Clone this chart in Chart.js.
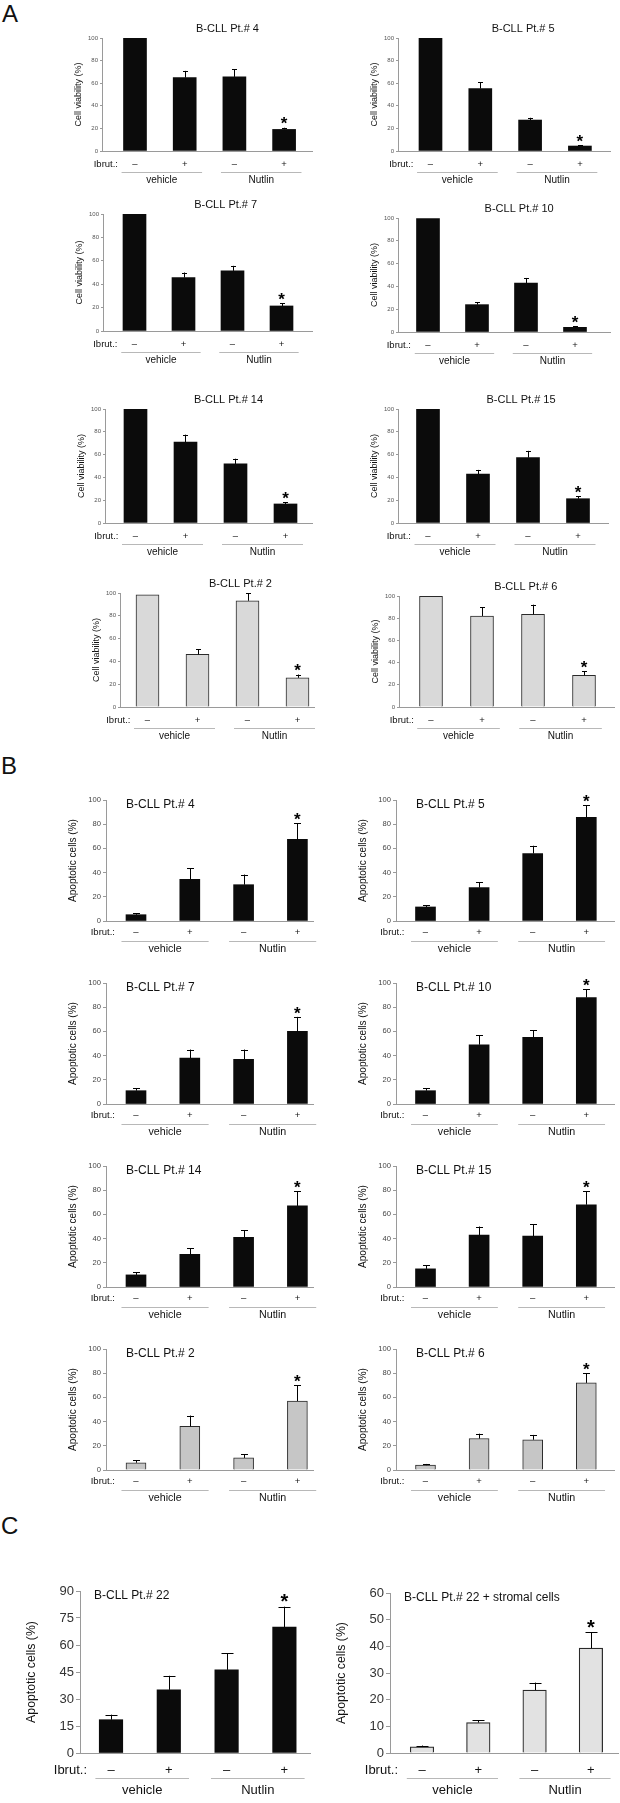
<!DOCTYPE html>
<html>
<head>
<meta charset="utf-8">
<script src="https://cdn.jsdelivr.net/npm/chart.js@4.4.1/dist/chart.umd.min.js"></script>
<style>
    html, body { margin: 0; padding: 0; background: #fff; }
    #page { position: relative; width: 620px; height: 1803px; overflow: hidden; font-family: 'Liberation Sans', Arial, sans-serif; }
    .letter { position: absolute; font-size: 24px; line-height: 24px; color: #111; }
    canvas { position: absolute; }
</style>
</head>
<body>
<div id="page">
    <div class="letter" style="left:2px; top:2px;">A</div>
    <div class="letter" style="left:1px; top:754px;">B</div>
    <div class="letter" style="left:1px; top:1514px;">C</div>
</div>
<script>
// ---- shared labels ----
const ibrutSigns = ['–', '+', '–', '+'];
const treatmentGroups = ['vehicle', 'Nutlin'];
const significant = [false, false, false, true];

// ---- A: cell viability (%) ----
const viabilityPatients = ['B-CLL Pt.# 4', 'B-CLL Pt.# 5', 'B-CLL Pt.# 7', 'B-CLL Pt.# 10',
                           'B-CLL Pt.# 14', 'B-CLL Pt.# 15', 'B-CLL Pt.# 2', 'B-CLL Pt.# 6'];
const viabilityMean = [
    [100, 65, 65.6, 19.1],
    [100, 55.3, 27.4, 4.4],
    [100, 45.7, 51.4, 21.4],
    [99.4, 24, 43, 4.1],
    [100, 71, 51.8, 16.7],
    [99.7, 42.9, 57.4, 21.3],
    [98.5, 46.2, 93.2, 25.6],
    [99.7, 82, 83.5, 28.5]
];
const viabilitySD = [
    [0, 5.9, 6.8, 1.5],
    [0, 5.7, 2, 0.6],
    [0, 4.3, 4.3, 2.3],
    [0, 2, 4.4, 0.9],
    [0, 6.5, 4.6, 1.3],
    [0, 3.7, 5.9, 2],
    [0, 4.4, 6.8, 2.9],
    [0, 8, 8.7, 3.6]
];
const viabilityTicks = [0, 20, 40, 60, 80, 100];

// ---- B: apoptotic cells (%) ----
const apoptosisPatients = viabilityPatients;
const apoptosisMean = [
    [5.2, 34.5, 30, 67.4],
    [11.6, 27.6, 55.8, 85.6],
    [11, 38, 37, 60],
    [11, 49, 55, 88],
    [10, 27, 41, 67],
    [15, 43, 42, 68],
    [6, 36, 10, 57],
    [4, 26, 25, 72]
];
const apoptosisSD = [
    [1.4, 8.9, 8.4, 13.3],
    [1.4, 4.4, 6.4, 10],
    [2, 7, 8, 12],
    [2, 8, 6, 7],
    [2, 5, 6, 12],
    [3, 7, 10, 11],
    [2, 9, 3, 13],
    [1, 4, 4, 8]
];
const apoptosisTicks = [0, 20, 40, 60, 80, 100];

// ---- C: Pt 22 with / without stroma ----
const stromaTitles = ['B-CLL Pt.# 22', 'B-CLL Pt.# 22 + stromal cells'];
const stromaMean = [
    [18.5, 35.1, 46.2, 69.9],
    [2.3, 11.4, 23.6, 39.3]
];
const stromaSD = [
    [2.8, 7.8, 9.2, 11.4],
    [0.5, 0.9, 2.8, 5.9]
];
const stromaTicks = [
    [0, 15, 30, 45, 60, 75, 90],
    [0, 10, 20, 30, 40, 50, 60]
];

const FONT = "'Liberation Sans', Arial, sans-serif";
Chart.defaults.font.family = FONT;
const PAD_L = 60, PAD_R = 6, PAD_T = 32, PAD_B = 50;

// where each plot sits on the page (axis x, axis right end, top tick y, zero y, first bar centre, bar spacing)
const frameA = [
    { axis: 102, right: 312, top: 38, zero: 151, c1: 135, step: 49.7 },
    { axis: 398, right: 610, top: 38, zero: 151, c1: 430.5, step: 49.8 },
    { axis: 103, right: 312, top: 214, zero: 331, c1: 134.5, step: 49 },
    { axis: 398, right: 610, top: 218, zero: 332, c1: 428, step: 49 },
    { axis: 105, right: 312, top: 409, zero: 523, c1: 135.5, step: 50 },
    { axis: 398, right: 608, top: 409, zero: 523, c1: 428, step: 50 },
    { axis: 120, right: 314, top: 593, zero: 707, c1: 147.5, step: 50 },
    { axis: 399, right: 614, top: 596, zero: 707, c1: 431, step: 51 }
];
const frameB = [];
for (let r = 0; r < 4; r++) {
    const top = 800 + 183 * r;
    frameB.push({ axis: 106, right: 313, top: top, zero: top + 121, c1: 136, step: 53.8 });
    frameB.push({ axis: 396, right: 614, top: top, zero: top + 121, c1: 425.5, step: 53.6 });
}
const frameC = [
    { axis: 80, right: 310, top: 1591, zero: 1753, c1: 111, step: 57.8 },
    { axis: 390, right: 618, top: 1593, zero: 1753, c1: 422, step: 56.3 }
];

const styleA = {
    barW: 23, cap: 5, tickFont: 6, tickColor: '#555', tickLen: 2,
    yTitle: 'Cell viability (%)', yTitleFont: 9, yTitleDx: -23,
    titleFont: 11, titleAlign: 'center', titleDx: 0, titleDy: -9,
    signFont: 9.5, signDy: 13, ibrutGap: 17, lineDy: 21, groupFont: 10, groupDy: 29,
    starFont: 17, starGap: 8
};
const styleB = {
    barW: 20, cap: 7, tickFont: 7.6, tickColor: '#444', tickLen: 3,
    yTitle: 'Apoptotic cells (%)', yTitleFont: 10, yTitleDx: -33,
    titleFont: 12, titleAlign: 'left', titleDx: 20, titleDy: 5,
    signFont: 9.5, signDy: 11.5, ibrutGap: 21, lineDy: 19.5, groupFont: 10.7, groupDy: 27.6,
    starFont: 17, starGap: 8
};
const styleC = {
    barW: 23.5, cap: 12, tickFont: 13, tickColor: '#333', tickLen: 4,
    yTitle: 'Apoptotic cells (%)', yTitleFont: 12.3, yTitleDx: -48,
    titleFont: 12, titleAlign: 'left', titleDx: 14, titleDy: 5,
    signFont: 13, signDy: 17, ibrutGap: 24, lineDy: 25, groupFont: 13, groupDy: 37,
    starFont: 20, starGap: 10
};

const BLACK = { fill: '#0b0b0b', border: '#0b0b0b', width: 0 };
const GRAY_A = { fill: '#d9d9d9', border: '#2a2a2a', width: 1 };
const GRAY_B = { fill: '#c6c6c6', border: '#2a2a2a', width: 1 };
const GRAY_C = { fill: '#e2e2e2', border: '#2a2a2a', width: 1.2 };

const specs = [];
viabilityPatients.forEach((p, i) => specs.push({
    title: p, mean: viabilityMean[i], sd: viabilitySD[i], ticks: viabilityTicks,
    frame: frameA[i], style: styleA, color: i >= 6 ? GRAY_A : BLACK
}));
apoptosisPatients.forEach((p, i) => specs.push({
    title: p, mean: apoptosisMean[i], sd: apoptosisSD[i], ticks: apoptosisTicks,
    frame: frameB[i], style: styleB, color: i >= 6 ? GRAY_B : BLACK
}));
stromaTitles.forEach((p, i) => specs.push({
    title: p, mean: stromaMean[i], sd: stromaSD[i], ticks: stromaTicks[i],
    frame: frameC[i], style: styleC, color: i === 1 ? GRAY_C : BLACK
}));

// error bars, stars, titles and the Ibrut / vehicle / Nutlin rows
function makeAnnotator(spec) {
    const st = spec.style;
    return {
        id: 'annot',
        afterDatasetsDraw(chart) {
            const ctx = chart.ctx;
            const yS = chart.scales.y;
            const bars = chart.getDatasetMeta(0).data;
            ctx.save();
            ctx.strokeStyle = '#000';
            ctx.lineWidth = 1;
            bars.forEach((bar, i) => {
                const sd = spec.sd[i];
                const yTop = yS.getPixelForValue(spec.mean[i] + sd);
                const x = Math.round(bar.x) + 0.5;
                if (sd > 0) {
                    ctx.beginPath();
                    ctx.moveTo(x, bar.y);
                    ctx.lineTo(x, yTop);
                    ctx.moveTo(x - st.cap / 2, Math.round(yTop) + 0.5);
                    ctx.lineTo(x + st.cap / 2, Math.round(yTop) + 0.5);
                    ctx.stroke();
                }
                if (significant[i]) {
                    ctx.fillStyle = '#000';
                    ctx.font = 'bold ' + st.starFont + 'px ' + FONT;
                    ctx.textAlign = 'center';
                    ctx.textBaseline = 'alphabetic';
                    ctx.fillText('*', bar.x, yTop - st.starGap + st.starFont * 0.57);
                }
            });
            ctx.restore();
        },
        afterDraw(chart) {
            const ctx = chart.ctx;
            const a = chart.chartArea;
            const xS = chart.scales.x;
            ctx.save();
            ctx.fillStyle = '#111';
            ctx.textBaseline = 'middle';

            // plot title
            ctx.font = st.titleFont + 'px ' + FONT;
            if (st.titleAlign === 'center') {
                ctx.textAlign = 'center';
                ctx.fillText(spec.title, xS.getPixelForValue(1 + 0.62 * 3), a.top + st.titleDy);
            } else {
                ctx.textAlign = 'left';
                ctx.fillText(spec.title, a.left + st.titleDx, a.top + st.titleDy);
            }

            // y axis title
            ctx.save();
            ctx.translate(a.left + st.yTitleDx, (a.top + a.bottom) / 2);
            ctx.rotate(-Math.PI / 2);
            ctx.textAlign = 'center';
            ctx.font = st.yTitleFont + 'px ' + FONT;
            ctx.fillText(st.yTitle, 0, 0);
            ctx.restore();

            // Ibrut.: row label
            ctx.font = st.signFont + 'px ' + FONT;
            ctx.textAlign = 'right';
            ctx.fillText('Ibrut.:', xS.getPixelForValue(1) - st.ibrutGap, a.bottom + st.signDy);

            // vehicle / Nutlin group lines
            ctx.strokeStyle = '#b8b8b8';
            ctx.lineWidth = 1;
            ctx.textAlign = 'center';
            ctx.font = st.groupFont + 'px ' + FONT;
            treatmentGroups.forEach((g, k) => {
                const x0 = xS.getPixelForValue(1 + 2 * k - 0.27);
                const x1 = xS.getPixelForValue(2 + 2 * k + 0.35);
                const ly = Math.round(a.bottom + st.lineDy) + 0.5;
                ctx.beginPath();
                ctx.moveTo(x0, ly);
                ctx.lineTo(x1, ly);
                ctx.stroke();
                ctx.fillText(g, (x0 + x1) / 2, a.bottom + st.groupDy);
            });
            ctx.restore();
        }
    };
}

const page = document.getElementById('page');
specs.forEach(spec => {
    const f = spec.frame, st = spec.style;
    const canvas = document.createElement('canvas');
    const w = f.right - f.axis + PAD_L + PAD_R;
    const h = f.zero - f.top + PAD_T + PAD_B;
    canvas.width = w;
    canvas.height = h;
    canvas.style.left = (f.axis - PAD_L) + 'px';
    canvas.style.top = (f.top - PAD_T) + 'px';
    page.appendChild(canvas);

    const xMin = 1 - (f.c1 - f.axis) / f.step;
    const xMax = 4 + (f.right - (f.c1 + 3 * f.step)) / f.step;
    const yTicks = spec.ticks;

    new Chart(canvas.getContext('2d'), {
        type: 'bar',
        data: {
            datasets: [{
                data: spec.mean.map((v, i) => ({ x: i + 1, y: v })),
                backgroundColor: spec.color.fill,
                borderColor: spec.color.border,
                borderWidth: spec.color.width,
                barThickness: st.barW
            }]
        },
        options: {
            responsive: false,
            animation: false,
            layout: { padding: { top: PAD_T, right: PAD_R, left: 0, bottom: 0 } },
            plugins: { legend: { display: false }, tooltip: { enabled: false } },
            scales: {
                x: {
                    type: 'linear',
                    min: xMin,
                    max: xMax,
                    offset: false,
                    afterFit: s => { s.height = PAD_B; },
                    afterBuildTicks: s => { s.ticks = ibrutSigns.map((_, i) => ({ value: i + 1 })); },
                    grid: { display: false, drawTicks: false, offset: false },
                    border: { display: true, color: '#9a9a9a', width: 1 },
                    ticks: {
                        autoSkip: false,
                        maxRotation: 0,
                        padding: st.signDy - st.signFont * 0.6,
                        color: '#111',
                        font: { size: st.signFont },
                        callback: v => ibrutSigns[Math.round(v) - 1]
                    }
                },
                y: {
                    min: yTicks[0],
                    max: yTicks[yTicks.length - 1],
                    afterFit: s => { s.width = PAD_L; },
                    afterBuildTicks: s => { s.ticks = yTicks.map(v => ({ value: v })); },
                    grid: { display: true, drawOnChartArea: false, drawTicks: true, tickLength: st.tickLen, color: '#9a9a9a' },
                    border: { display: true, color: '#9a9a9a', width: 1 },
                    ticks: { padding: 2, color: st.tickColor, font: { size: st.tickFont } }
                }
            }
        },
        plugins: [makeAnnotator(spec)]
    });
});
</script>
</body>
</html>
